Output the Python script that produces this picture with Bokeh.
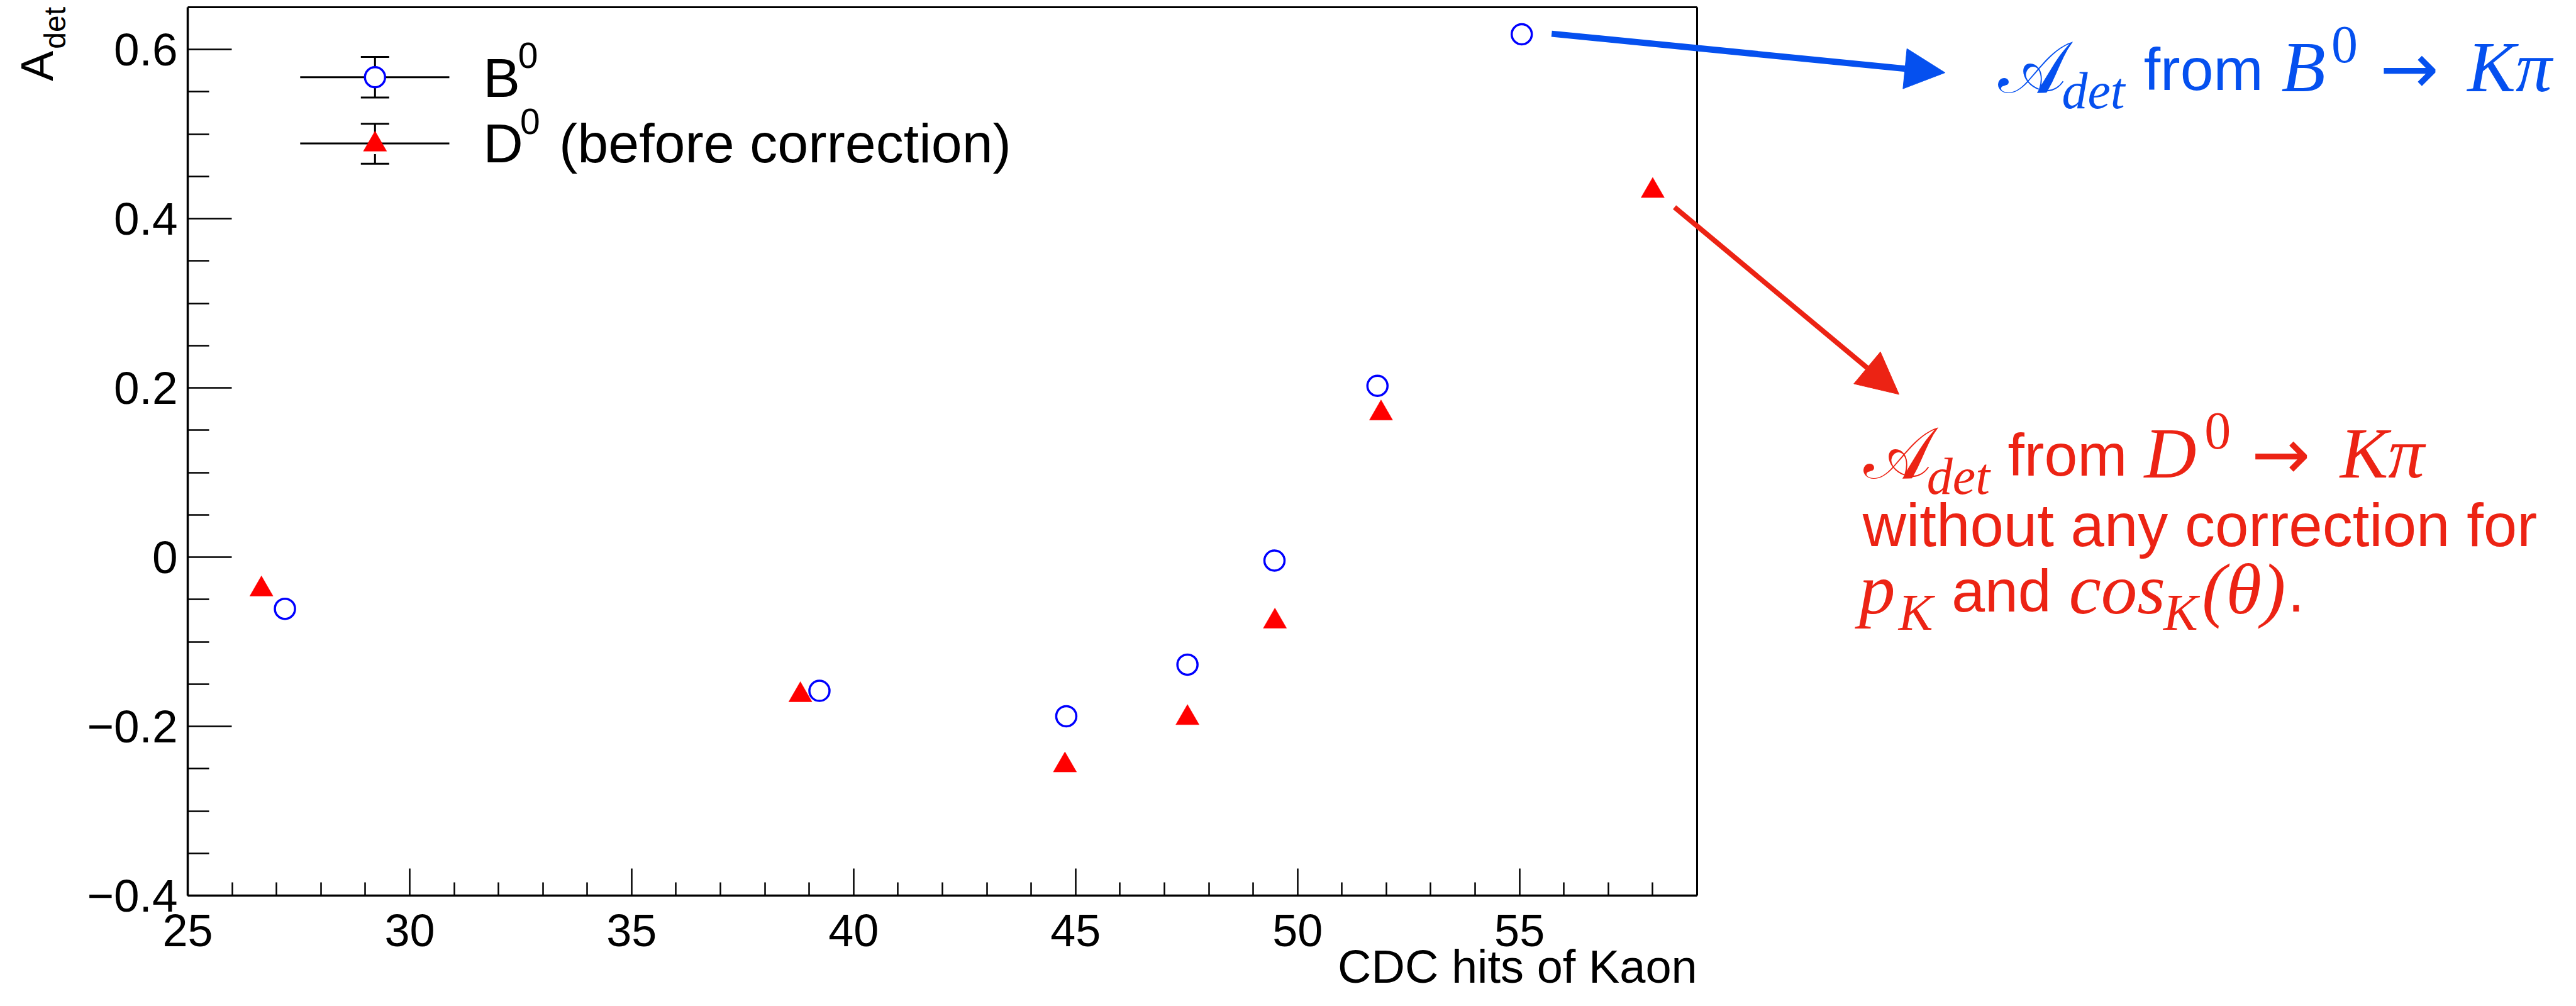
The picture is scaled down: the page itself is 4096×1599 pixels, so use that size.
import math
from bokeh.plotting import figure
from bokeh.models import Range1d, FixedTicker, Label, Arrow, NormalHead
from bokeh.embed import file_html
from bokeh.resources import INLINE

# ---------------- data ----------------
b0_hits = [27.19, 39.23, 44.79, 47.52, 49.48, 51.80, 55.05]
b0_adet = [-0.061, -0.158, -0.188, -0.127, -0.004, 0.2025, 0.618]
d0_hits = [26.66, 38.80, 44.76, 47.52, 49.49, 51.88, 58.00]
d0_adet = [-0.038, -0.163, -0.246, -0.190, -0.076, 0.170, 0.433]

x_ticks = [25, 30, 35, 40, 45, 50, 55]
x_minor = [v for v in range(26, 59) if v % 5 != 0]
y_ticks = [-0.4, -0.2, 0, 0.2, 0.4, 0.6]
y_tick_labels = ["\u22120.4", "\u22120.2", "0", "0.2", "0.4", "0.6"]
y_minor = [-0.35, -0.3, -0.25, -0.15, -0.1, -0.05, 0.05, 0.1, 0.15,
           0.25, 0.3, 0.35, 0.45, 0.5, 0.55]
x_axis_range = (25, 59)
y_axis_range = (-0.4, 0.65)

x_title = "CDC hits of Kaon"
leg_labels = ["B", "D", "(before correction)"]

BLUE_TXT = "#0550EF"
RED_TXT = "#EC2314"
SANS = "Liberation Sans"
SERIF = "Liberation Serif"
DJ = "DejaVu Sans"

# ---------------- layout (page pixels, origin inside the 8px margin) ----------------
W, H = 4080, 1591
FL, FR, FT, FB = 298, 2698, 11, 1423   # plot box
S = 0.804
px_x = (x_axis_range[1] - x_axis_range[0]) / (FR - FL)
px_y = (y_axis_range[1] - y_axis_range[0]) / (FB - FT)


def xd(px):
    return x_axis_range[0] + (px - FL) * px_x


def yd(py):
    return y_axis_range[1] - (py - FT) * px_y


def F(v):
    """reference pixel -> page pixel"""
    return v * S - 8


p = figure(width=W, height=H, output_backend="svg", toolbar_location=None,
           x_range=Range1d(xd(0), xd(W)), y_range=Range1d(yd(H), yd(0)),
           min_border=0, min_border_left=0, min_border_right=0,
           min_border_top=0, min_border_bottom=0)
p.grid.visible = False
p.outline_line_color = None
p.background_fill_color = "white"
p.border_fill_color = "white"

xa = p.xaxis[0]
xa.fixed_location = y_axis_range[0]
xa.bounds = x_axis_range
xa.ticker = FixedTicker(ticks=x_ticks, minor_ticks=x_minor)
xa.major_tick_in = 43
xa.major_tick_out = 0
xa.minor_tick_in = 21
xa.minor_tick_out = 0
xa.major_tick_line_width = 2.5
xa.minor_tick_line_width = 2.5
xa.axis_line_width = 3.5
xa.major_label_text_font = SANS
xa.major_label_text_font_size = "72px"
xa.major_label_text_color = "black"
xa.major_label_standoff = 30

ya = p.yaxis[0]
ya.fixed_location = x_axis_range[0]
ya.bounds = y_axis_range
ya.ticker = FixedTicker(ticks=y_ticks, minor_ticks=y_minor)
ya.major_label_overrides = {t: l for t, l in zip(y_ticks, y_tick_labels)}
ya.major_tick_in = 70
ya.major_tick_out = 0
ya.minor_tick_in = 34
ya.minor_tick_out = 0
ya.major_tick_line_width = 2.5
ya.minor_tick_line_width = 2.5
ya.axis_line_width = 3.5
ya.major_label_text_font = SANS
ya.major_label_text_font_size = "73px"
ya.major_label_text_color = "black"
ya.major_label_standoff = 16

# top and right edges of the plot box
p.segment(x0=[x_axis_range[0], x_axis_range[1]], y0=[y_axis_range[1], y_axis_range[0]],
          x1=[x_axis_range[1], x_axis_range[1]], y1=[y_axis_range[1], y_axis_range[1]],
          line_color="black", line_width=3)

# ---------------- data points ----------------
p.scatter(b0_hits, b0_adet, marker="circle", size=32, fill_color=None,
          line_color="#0000FF", line_width=3.5)
p.scatter(d0_hits, d0_adet, marker="triangle", size=37, fill_color="#FF0000",
          line_color="#FF0000", line_width=0.5)

KSHIFT = {SANS: 0.25, SERIF: 0.23, DJ: 0.27}


def lab(fx, fy, text, size, font=SANS, style="normal", color="black",
        align="left", rotated=False):
    """fx, fy: reference pixel of the text's start/end and baseline."""
    k = KSHIFT.get(font, 0.24) * size
    if rotated:
        sx, sy, ang = F(fx) - k, F(fy), math.pi / 2
    else:
        sx, sy, ang = F(fx), F(fy) - k, 0.0
    p.add_layout(Label(x=xd(sx), y=yd(sy), text=text, text_font=font,
                       text_font_size=f"{size}px", text_font_style=style,
                       text_color=color, text_align=align,
                       text_baseline="alphabetic", angle=ang))


# ---------------- axis titles ----------------
lab(105, 110, "A", 72, align="right", rotated=True)
lab(133, 23, "det", 48, align="right", rotated=True)
lab(3366, 1944, x_title, 74, align="right")

# ---------------- legend ----------------
for cy, top, bot, r in [(162, 122, 202, 20), (293, 254, 333, 21)]:
    p.segment(x0=[xd(F(603))], y0=[yd(F(cy))], x1=[xd(F(898))], y1=[yd(F(cy))],
              line_color="black", line_width=3)
    p.segment(x0=[xd(F(751)), xd(F(751)), xd(F(723)), xd(F(723))],
              y0=[yd(F(top)), yd(F(cy + r)), yd(F(top)), yd(F(bot))],
              x1=[xd(F(751)), xd(F(751)), xd(F(779)), xd(F(779))],
              y1=[yd(F(cy - r)), yd(F(bot)), yd(F(top)), yd(F(bot))],
              line_color="black", line_width=3)
p.scatter([xd(F(751))], [yd(F(162))], marker="circle", size=32, fill_color="white",
          line_color="#0000FF", line_width=3.5)
p.scatter([xd(F(751))], [yd(F(295))], marker="triangle", size=37, fill_color="#FF0000",
          line_color="#FF0000", line_width=0.5)
lab(965, 190, leg_labels[0], 88)
lab(1034, 137, "0", 57)
lab(965, 320, leg_labels[1], 88)
lab(1038, 267, "0", 57)
lab(1115, 320, leg_labels[2], 88)

# ---------------- annotations ----------------
p.add_layout(Arrow(end=NormalHead(size=64, fill_color=BLUE_TXT, line_color=BLUE_TXT),
                   x_start=xd(F(3078)), y_start=yd(F(76)),
                   x_end=xd(F(3856)), y_end=yd(F(153)),
                   line_color=BLUE_TXT, line_width=10))
p.add_layout(Arrow(end=NormalHead(size=66, fill_color=RED_TXT, line_color=RED_TXT),
                   x_start=xd(F(3321)), y_start=yd(F(419)),
                   x_end=xd(F(3765)), y_end=yd(F(789)),
                   line_color=RED_TXT, line_width=8))

# blue: A_det from B0 -> K pi
lab(3961, 177, "\U0001D49C", 115, font=SERIF, color=BLUE_TXT)
lab(4087, 212, "det", 82, font=SERIF, style="italic", color=BLUE_TXT)
lab(4249, 176, "from", 95, color=BLUE_TXT)
lab(4521, 175, "B", 115, font=SERIF, style="italic", color=BLUE_TXT)
lab(4620, 122, "0", 84, font=SERIF, color=BLUE_TXT)
lab(4716, 182, "\u2192", 112, font=DJ, color=BLUE_TXT)
lab(4889, 175, "K\u03c0", 115, font=SERIF, style="italic", color=BLUE_TXT)

# red: A_det from D0 -> K pi without any correction ...
lab(3695, 940, "\U0001D49C", 115, font=SERIF, color=RED_TXT)
lab(3820, 975, "det", 82, font=SERIF, style="italic", color=RED_TXT)
lab(3980, 938, "from", 95, color=RED_TXT)
lab(4250, 938, "D", 115, font=SERIF, style="italic", color=RED_TXT)
lab(4369, 885, "0", 84, font=SERIF, color=RED_TXT)
lab(4462, 945, "\u2192", 112, font=DJ, color=RED_TXT)
lab(4637, 938, "K\u03c0", 115, font=SERIF, style="italic", color=RED_TXT)
lab(3693, 1077, "without any correction for", 96, color=RED_TXT)
lab(3686, 1207, "p", 115, font=SERIF, style="italic", color=RED_TXT)
lab(3764, 1243, "K", 82, font=SERIF, style="italic", color=RED_TXT)
lab(3869, 1207, "and", 95, color=RED_TXT)
lab(4101, 1207, "cos", 115, font=SERIF, style="italic", color=RED_TXT)
lab(4288, 1243, "K", 82, font=SERIF, style="italic", color=RED_TXT)
lab(4364, 1207, "(\u03b8)", 115, font=SERIF, style="italic", color=RED_TXT)
lab(4534, 1207, ".", 95, color=RED_TXT)

open("out.html", "w").write(file_html(p, INLINE))
